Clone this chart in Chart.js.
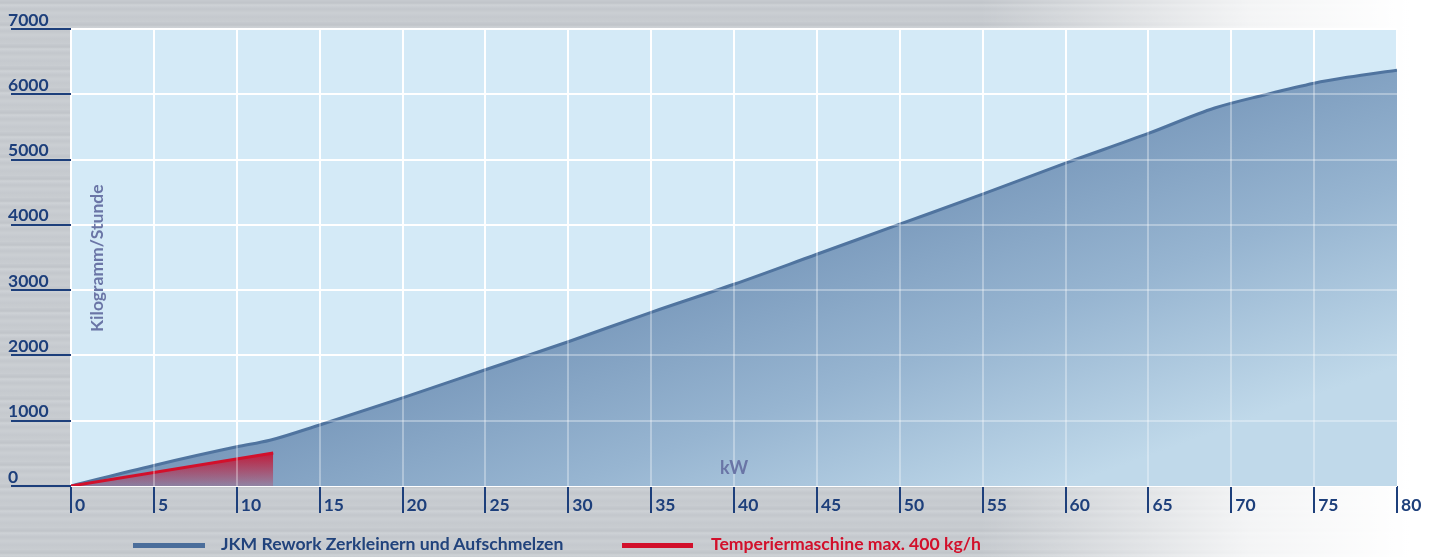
<!DOCTYPE html>
<html>
<head>
<meta charset="utf-8">
<script src="https://cdn.jsdelivr.net/npm/chart.js@4.4.1/dist/chart.umd.min.js"></script>
<style>
  html, body { margin:0; padding:0; }
  body {
    width:1438px; height:557px; overflow:hidden; position:relative;
    background:
      linear-gradient(to right, rgba(255,255,255,0) 0px, rgba(255,255,255,0) 980px, rgba(255,255,255,0.8) 1250px, #fff 1410px),
      repeating-linear-gradient(180deg, #c6cacf 0px, #c0c4c9 3px, #ced2d6 5px, #c3c7cc 9px, #cbcfd3 13px, #c5c9ce 17px, #c9cdd1 22px);
  }
  #c { position:absolute; left:0; top:0; }
  .leg { position:absolute; font-family: Lato, "Open Sans", sans-serif; font-weight:bold; font-size:17.6px; line-height:20px; white-space:nowrap; }
  .bar { position:absolute; height:5px; }
</style>
</head>
<body>
<canvas id="c" width="1438" height="557"></canvas>
<div class="bar" style="left:133px; top:543px; width:72px; background:#4b6e9b;"></div>
<div class="leg" style="left:221px; top:534px; color:#21437c;">JKM Rework Zerkleinern und Aufschmelzen</div>
<div class="bar" style="left:622px; top:543px; width:71px; background:#d2102b;"></div>
<div class="leg" style="left:711px; top:534px; color:#d2102b;">Temperiermaschine max. 400 kg/h</div>
<script>
// ---- data ----
const jkmKw = [0, 5, 10, 12, 15, 20, 25, 30, 35, 40, 45, 50, 55, 60, 65, 69, 72, 75, 77, 80];
const jkmKg = [0, 315, 600, 700, 935, 1350, 1780, 2210, 2660, 3090, 3550, 4010, 4470, 4945, 5400, 5790, 5990, 6170, 6260, 6370];
const tempKw = [0, 12.2];
const tempKg = [0, 505];
const yLabel = 'Kilogramm/Stunde';
const xLabel = 'kW';
const seriesNames = ['JKM Rework Zerkleinern und Aufschmelzen', 'Temperiermaschine max. 400 kg/h'];

const tickColor = '#1d3f7b';
const titleColor = '#6a75a6';
const FONT = 'Lato, "Open Sans", sans-serif';

const toPts = (xs, ys) => xs.map((x, i) => ({x: x, y: ys[i]}));

const bgPlugin = {
  id: 'plotBg',
  beforeDraw(chart) {
    const {ctx, chartArea: a} = chart;
    ctx.save();
    ctx.fillStyle = '#d4eaf7';
    ctx.fillRect(a.left, a.top, a.right - a.left, a.bottom - a.top);
    ctx.restore();
  },
  afterDatasetsDraw(chart) {
    const {ctx, chartArea: a, scales} = chart;
    ctx.save();
    ctx.strokeStyle = 'rgba(255,255,255,0.32)';
    ctx.lineWidth = 2;
    scales.x.ticks.forEach(t => {
      const px = Math.round(scales.x.getPixelForValue(t.value));
      if (px <= a.left + 1 || px >= a.right - 1) return;
      ctx.beginPath(); ctx.moveTo(px, a.top); ctx.lineTo(px, a.bottom); ctx.stroke();
    });
    scales.y.ticks.forEach(t => {
      const py = Math.round(scales.y.getPixelForValue(t.value));
      if (py <= a.top + 1 || py >= a.bottom - 1) return;
      ctx.beginPath(); ctx.moveTo(a.left, py); ctx.lineTo(a.right, py); ctx.stroke();
    });
    // axis titles
    ctx.fillStyle = titleColor;
    ctx.font = 'bold 17.5px ' + FONT;
    ctx.textAlign = 'center';
    ctx.textBaseline = 'middle';
    ctx.save();
    ctx.translate(a.left + 26, scales.y.getPixelForValue(3490));
    ctx.rotate(-Math.PI / 2);
    ctx.fillText(yLabel, 0, 0);
    ctx.restore();
    ctx.font = 'bold 18px ' + FONT;
    ctx.fillText(xLabel, scales.x.getPixelForValue(40), a.bottom - 18);
    ctx.restore();
  }
};

function blueFill(context) {
  const chart = context.chart;
  const a = chart.chartArea;
  if (!a) return '#7c9cbd';
  const dx = 0.34, dy = 0.94;
  const t0 = 480, t1 = 820;
  const g = chart.ctx.createLinearGradient(dx * t0, dy * t0, dx * t1, dy * t1);
  g.addColorStop(0, '#7797ba');
  g.addColorStop(0.5, '#97b5d1');
  g.addColorStop(1, '#c0d9ea');
  return g;
}
function redFill(context) {
  const chart = context.chart;
  const a = chart.chartArea;
  if (!a) return 'rgba(205,15,45,0.6)';
  const yTop = chart.scales.y.getPixelForValue(tempKg[tempKg.length - 1]);
  const g = chart.ctx.createLinearGradient(0, yTop, 0, a.bottom);
  g.addColorStop(0, 'rgba(200,15,45,0.9)');
  g.addColorStop(1, 'rgba(200,15,45,0.2)');
  return g;
}

new Chart(document.getElementById('c'), {
  type: 'line',
  data: {
    datasets: [
      {
        label: seriesNames[1],
        data: toPts(tempKw, tempKg),
        borderColor: '#d2102b',
        borderWidth: 3,
        backgroundColor: redFill,
        fill: 'origin',
        pointRadius: 0,
        tension: 0,
        order: 0
      },
      {
        label: seriesNames[0],
        data: toPts(jkmKw, jkmKg),
        borderColor: '#50749f',
        borderWidth: 3,
        backgroundColor: blueFill,
        fill: 'origin',
        pointRadius: 0,
        cubicInterpolationMode: 'monotone',
        order: 1
      }
    ]
  },
  options: {
    responsive: false,
    animation: false,
    layout: { padding: { left: 8, top: 29, right: 41, bottom: 41 } },
    plugins: { legend: { display: false }, tooltip: { enabled: false } },
    scales: {
      x: {
        type: 'linear', min: 0, max: 80,
        afterFit: s => { s.height = 30; },
        border: { display: false },
        grid: { color: '#ffffff', lineWidth: 2, tickColor: tickColor, tickWidth: 2, tickLength: 27 },
        ticks: { stepSize: 5, align: 'start', labelOffset: 4, padding: -18, color: tickColor,
                 callback: v => String(v),
                 font: { family: FONT, weight: 'bold', size: 17.5 } }
      },
      y: {
        min: 0, max: 7000,
        afterFit: s => { s.width = 63; },
        border: { display: false },
        grid: { color: '#ffffff', lineWidth: 2, tickColor: tickColor, tickWidth: 2, tickLength: 60 },
        ticks: { stepSize: 1000, crossAlign: 'far', labelOffset: -9, color: tickColor,
                 callback: v => String(v),
                 font: { family: FONT, weight: 'bold', size: 17.5 } }
      }
    }
  },
  plugins: [bgPlugin]
});
</script>
</body>
</html>
